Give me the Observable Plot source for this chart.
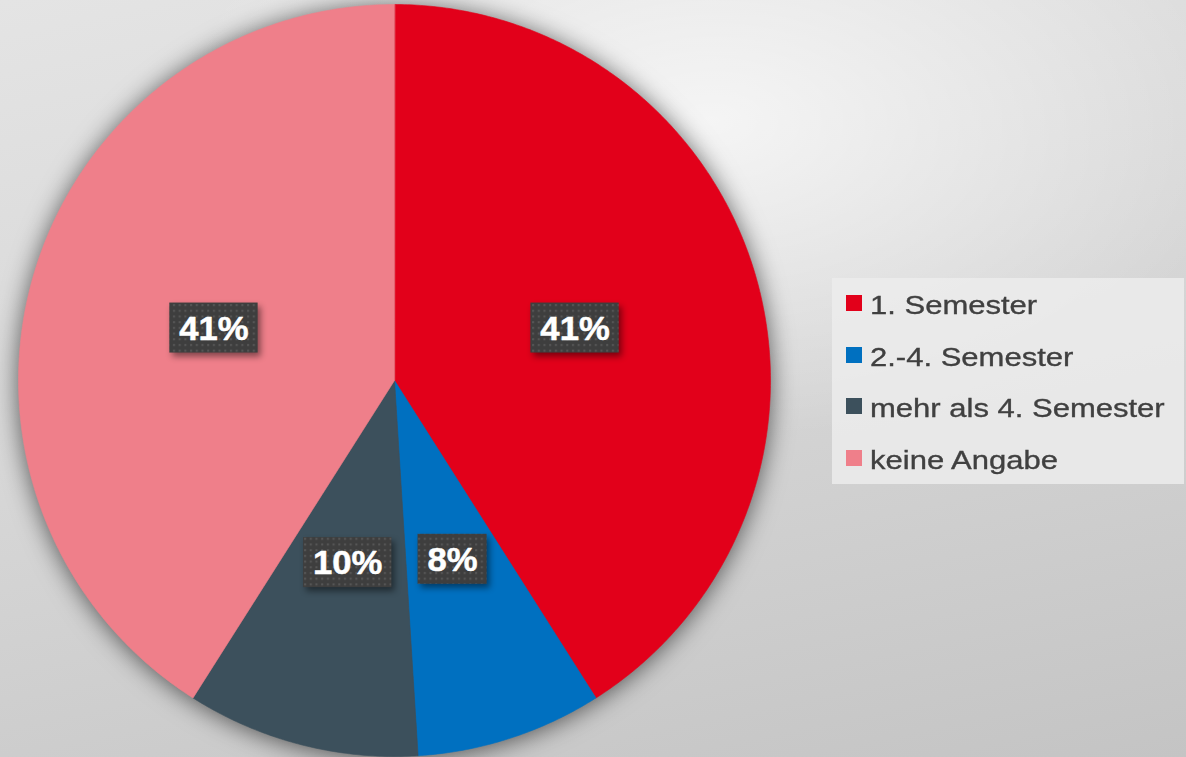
<!DOCTYPE html>
<html>
<head>
<meta charset="utf-8">
<script src="https://cdn.jsdelivr.net/npm/d3@7"></script>
<script src="https://cdn.jsdelivr.net/npm/@observablehq/plot@0.6"></script>
<style>
  html, body { margin: 0; padding: 0; }
  #wrap {
    position: relative; width: 1186px; height: 757px; overflow: hidden;
    background:
      radial-gradient(ellipse 45% 42% at 60% 16%, rgba(255,255,255,0.7) 0%, rgba(255,255,255,0) 100%),
      linear-gradient(168deg, #e4e4e4 0%, #d6d6d6 50%, #c4c4c4 100%);
    font-family: "Liberation Sans", Arial, sans-serif;
  }
  #chart { position: absolute; left: 0; top: 0; }
  #legend {
    position: absolute; left: 832px; top: 278px; width: 352px; height: 206px;
    background: rgba(236,236,236,0.85);
  }
  .item { position: absolute; left: 14px; height: 30px; }
  .sw { position: absolute; left: 0; width: 16px; height: 16px; }
  .lab {
    position: absolute; left: 24px; white-space: nowrap;
    font-size: 26.5px; line-height: 26px; color: #404040;
    -webkit-text-stroke: 0.35px #404040;
    transform: scaleX(1.17); transform-origin: 0 0;
  }
</style>
</head>
<body>
<div id="wrap">
  <div id="chart"></div>
  <div id="legend"></div>
</div>
<script>
// ---- data ----
const categories = ["1. Semester", "2.-4. Semester", "mehr als 4. Semester", "keine Angabe"];
const values = [41, 8, 10, 41];
const labels = ["41%", "8%", "10%", "41%"];
const colors = ["#E2001A", "#0070C0", "#3C505C", "#EF7F8A"];

// ---- layout ----
const W = 1186, H = 757;
const cx = 394, cy = 380, R = 376;   // pie centre & radius in px
const labelR = 0.5;                   // label distance (fraction of radius)
const fontSize = 33, stretch = 1.05, padX = 9.5, boxH = 50;

// slices via d3.pie (clockwise from 12 o'clock)
const arcs = d3.pie().sort(null).value(d => d)(values);
const slicePts = [];
arcs.forEach((a, i) => {
  const n = Math.max(8, Math.ceil((a.endAngle - a.startAngle) / (Math.PI / 360)));
  slicePts.push({cat: categories[i], x: 0, y: 0});
  for (let k = 0; k <= n; k++) {
    const t = a.startAngle + (a.endAngle - a.startAngle) * k / n;
    slicePts.push({cat: categories[i], x: Math.sin(t), y: Math.cos(t)});
  }
});

// label anchors
const glyphW = c => (c === "%" ? 0.889 : 0.556);  // Arial bold advance widths
const labelData = arcs.map((a, i) => {
  const m = (a.startAngle + a.endAngle) / 2;
  const tw = [...labels[i]].reduce((s, c) => s + glyphW(c), 0) * fontSize * stretch;
  const hw = (tw / 2 + padX) / R, hh = (boxH / 2) / R;
  const x = labelR * Math.sin(m), y = labelR * Math.cos(m);
  return {label: labels[i], x, y, x1: x - hw, x2: x + hw, y1: y - hh, y2: y + hh};
});

const plot = Plot.plot({
  width: W, height: H,
  marginTop: 0, marginRight: 0, marginBottom: 0, marginLeft: 0,
  x: {domain: [-cx / R, (W - cx) / R], axis: null},
  y: {domain: [-(H - cy) / R, cy / R], axis: null},
  color: {domain: categories, range: colors},
  style: {background: "transparent", overflow: "visible"},
  marks: [
    Plot.line(slicePts, {x: "x", y: "y", z: "cat", fill: "cat", stroke: "cat", strokeWidth: 0.6, curve: "linear-closed"}),
    Plot.rect(labelData, {x1: "x1", x2: "x2", y1: "y1", y2: "y2", fill: "#404040"}),
    Plot.text(labelData, {x: "x", y: "y", text: "label", fill: "white", stroke: "white", strokeWidth: 0.5,
      fontSize: fontSize, fontWeight: "bold", fontFamily: "Liberation Sans, Arial, sans-serif",
      textAnchor: "middle", lineAnchor: "middle", dy: 1})
  ]
});
document.getElementById("chart").appendChild(plot);

// decorations: shadow on pie, dotted pattern + shadow on label boxes, horizontal text stretch
const svg = plot.tagName.toLowerCase() === "svg" ? plot : plot.querySelector("svg");
const ns = "http://www.w3.org/2000/svg";
const defs = document.createElementNS(ns, "defs");
defs.innerHTML = `<pattern id="dots" width="5.7" height="5.7" patternUnits="userSpaceOnUse">
  <rect width="5.7" height="5.7" fill="#3e3e3e"/><rect x="2" y="2" width="2" height="2" fill="#575757"/></pattern>`;
svg.insertBefore(defs, svg.firstChild);
const groups = svg.querySelectorAll(":scope > g");
groups[0].style.filter = "drop-shadow(0px 2px 12px rgba(0,0,0,0.6))";
groups[1].style.filter = "drop-shadow(3px 4px 3px rgba(0,0,0,0.45))";
groups[1].querySelectorAll("rect").forEach(r => r.setAttribute("fill", "url(#dots)"));
groups[2].querySelectorAll("text").forEach(t => {
  const tr = t.getAttribute("transform") || "";
  t.setAttribute("transform", tr + ` scale(${stretch},1)`);
});

// legend
const lg = document.getElementById("legend");
const rowTops = [17, 69, 120, 172];
categories.forEach((c, i) => {
  const it = document.createElement("div");
  it.className = "item";
  it.style.top = rowTops[i] + "px";
  it.innerHTML = `<div class="sw" style="background:${colors[i]}"></div><span class="lab" style="top:-3.5px">${c}</span>`;
  lg.appendChild(it);
});
</script>
</body>
</html>
